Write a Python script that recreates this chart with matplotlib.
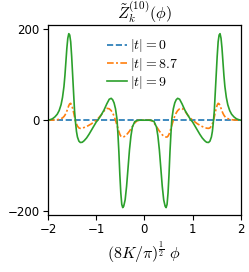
import numpy as np
import matplotlib
matplotlib.use("Agg")
import matplotlib.pyplot as plt

plt.rcParams["mathtext.fontset"] = "cm"

# half of the (even) curves, x >= 0
x_half = [0.00, 0.10, 0.15, 0.20, 0.25, 0.28, 0.31, 0.34, 0.37, 0.40, 0.43, 0.45,
          0.47, 0.49, 0.51, 0.53, 0.55, 0.57, 0.60, 0.63, 0.66, 0.69, 0.73, 0.78,
          0.84, 0.90, 0.96, 1.00, 1.05, 1.10, 1.15, 1.20, 1.25, 1.29, 1.33, 1.36,
          1.39, 1.41, 1.43, 1.45, 1.47, 1.49, 1.51, 1.53, 1.55, 1.57, 1.59, 1.61,
          1.63, 1.65, 1.67, 1.70, 1.73, 1.77, 1.81, 1.86, 1.91, 1.96, 2.00]

z_t9 = [0, 0, -0.5, -3, -15, -35, -65, -105, -145, -175, -189, -192,
        -185, -160, -120, -70, -30, 3, 25, 38, 45, 48, 46, 36,
        22, 11, 1, -4, -13, -22, -31, -39, -45, -48.5, -49, -46,
        -37, -25, -5, 20, 60, 100, 140, 172, 187, 190, 180, 158,
        128, 98, 74, 50, 34, 21, 13, 7, 3, 1, 0]

z_t87 = [0, 0, -1, -6, -14, -19, -24, -28, -32, -35, -36.5, -37,
         -37, -35, -31, -25, -18, -11, 0, 9, 16, 21, 25, 26,
         20, 11, 4, 0, -4, -8, -11, -14, -16, -17.5, -18, -17,
         -13, -8, -2, 7, 17, 26, 33, 37, 36, 32, 26, 20,
         15, 11, 8, 5, 3.5, 2, 1, 0.5, 0.2, 0, 0]

z_t0 = [0] * len(x_half)

labels = [r"$|t| = 0$", r"$|t| = 8.7$", r"$|t| = 9$"]


def mirror(xs, ys):
    xs = np.asarray(xs, dtype=float)
    ys = np.asarray(ys, dtype=float)
    return np.concatenate([-xs[::-1], xs[1:]]), np.concatenate([ys[::-1], ys[1:]])


fig = plt.figure(figsize=(2.49, 2.72), dpi=100)
ax = fig.add_axes([0.193, 0.21, 0.774, 0.698])

x, y = mirror(x_half, z_t0)
ax.plot(x, y, color="#1f77b4", linestyle="--", linewidth=1.2, label=labels[0])
x, y = mirror(x_half, z_t87)
ax.plot(x, y, color="#ff7f0e", linewidth=1.2, dashes=(4, 1.4, 1.2, 1.4), label=labels[1])
x, y = mirror(x_half, z_t9)
ax.plot(x, y, color="#2ca02c", linestyle="-", linewidth=1.2, label=labels[2])

ax.set_xlim(-2, 2)
ax.set_ylim(-208, 209)
ax.set_xticks([-2, -1, 0, 1, 2])
ax.set_yticks([-200, 0, 200])
ax.tick_params(labelsize=8.5, length=3.5, width=0.8, pad=2.5)
for s in ax.spines.values():
    s.set_linewidth(0.9)

ax.set_title(r"$\tilde{Z}_k^{(10)}(\phi)$", fontsize=11.5, pad=2)
ax.set_xlabel(r"$(8K/\pi)^{\frac{1}{2}}\ \phi$", fontsize=11.5, labelpad=3)

ax.legend(loc="upper left", frameon=False, fontsize=10, handlelength=1.45,
          handletextpad=0.25, labelspacing=0.1, borderpad=0, borderaxespad=0,
          bbox_to_anchor=(0.305, 0.935))

fig.savefig("out.png", dpi=100)
